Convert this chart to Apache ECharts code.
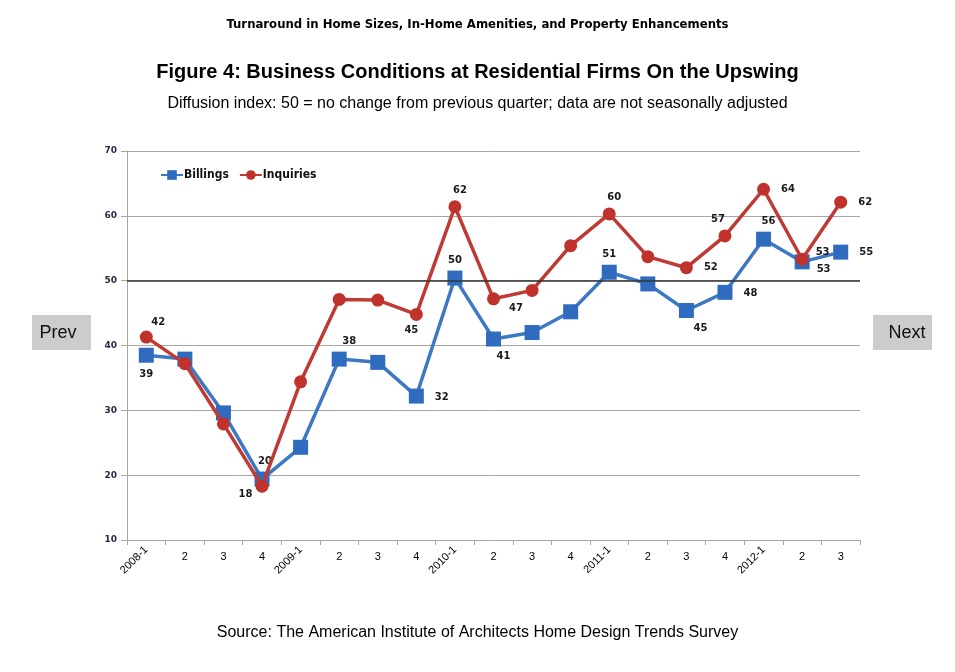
<!DOCTYPE html>
<html>
<head>
<meta charset="utf-8">
<style>
html, body { margin: 0; padding: 0; background: #fff; }
#chart { width: 955px; height: 672px; }
</style>
<script src="https://cdn.jsdelivr.net/npm/echarts@6/dist/echarts.min.js"></script>
</head>
<body>
<div id="chart"></div>
<script>
var quarters = ['2008-1', '2', '3', '4', '2009-1', '2', '3', '4', '2010-1', '2', '3', '4',
    '2011-1', '2', '3', '4', '2012-1', '2', '3'];
var billings = [38.5, 37.9, 29.6, 19.4, 24.3, 37.9, 37.4, 32.2, 50.4, 41.0, 42.0, 45.2,
    51.3, 49.5, 45.4, 48.2, 56.4, 52.9, 54.4];
var inquiries = [41.3, 37.2, 27.9, 18.3, 34.4, 47.1, 47.0, 44.8, 61.4, 47.2, 48.5, 55.4,
    60.3, 53.7, 52.0, 56.9, 64.1, 53.3, 62.1];
var billingsLabels = ['39', null, null, '20', null, '38', null, '32', '50', '41', null, null,
    '51', null, '45', '48', '56', '53', '55'];
var inquiriesLabels = ['42', null, null, '18', null, null, null, '45', '62', '47', null, null,
    '60', null, '52', '57', '64', '53', '62'];
var yTicks = [10, 20, 30, 40, 50, 60, 70];

// where each point label sits (position, offset)
var billingsPos = {
    0: ['bottom', [0, 2]], 3: ['top', [3, 0]], 5: ['top', [10, 0]], 7: ['right', [6, 1]],
    8: ['top', [0, 0]], 9: ['bottom', [10, 0]], 12: ['top', [0, 0]], 14: ['bottom', [14, 0]],
    15: ['right', [6, 1]], 16: ['top', [5, 0]], 17: ['right', [2, 8]], 18: ['right', [6, 0]]
};
var inquiriesPos = {
    0: ['top', [12, 2]], 3: ['left', [2, 8]], 7: ['bottom', [-5, 0]], 8: ['top', [5, 0]],
    9: ['right', [4, 10]], 12: ['top', [5, 0]], 14: ['right', [6, 0]], 15: ['top', [-7, 0]],
    16: ['right', [6, 0]], 17: ['right', [2, -7]], 18: ['right', [6, 0]]
};

function buildData(values, labels, pos) {
    return values.map(function (v, i) {
        var item = { value: v };
        if (labels[i] !== null) {
            item.label = {
                show: true,
                formatter: labels[i],
                position: pos[i][0],
                offset: pos[i][1]
            };
        }
        return item;
    });
}

var dom = document.getElementById('chart');
var myChart = echarts.init(dom);

var labelFont = {
    fontFamily: 'DejaVu Sans',
    fontWeight: 'bold',
    fontSize: 10,
    color: '#1a1a1a'
};

var option = {
    backgroundColor: '#ffffff',
    animation: false,
    title: [
        {
            text: 'Turnaround in Home Sizes, In-Home Amenities, and Property Enhancements',
            left: 'center', top: 13,
            textStyle: { fontFamily: 'DejaVu Sans Condensed', fontWeight: 'bold', fontSize: 13, color: '#000' }
        },
        {
            text: 'Figure 4: Business Conditions at Residential Firms On the Upswing',
            left: 'center', top: 57,
            textStyle: { fontFamily: 'Liberation Sans', fontWeight: 'bold', fontSize: 20, color: '#000' }
        },
        {
            text: 'Diffusion index: 50 = no change from previous quarter; data are not seasonally adjusted',
            left: 'center', top: 91,
            textStyle: { fontFamily: 'Liberation Sans', fontWeight: 'normal', fontSize: 16, color: '#000' }
        },
        {
            text: 'Source: The American Institute of Architects Home Design Trends Survey',
            left: 'center', top: 620,
            textStyle: { fontFamily: 'Liberation Sans', fontWeight: 'normal', fontSize: 16, color: '#000' }
        }
    ],
    legend: {
        left: 155, top: 164,
        itemGap: 10,
        itemWidth: 22, itemHeight: 12,
        textStyle: { fontFamily: 'DejaVu Sans Condensed', fontWeight: 'bold', fontSize: 12, color: '#111', padding: [0, 0, 0, -4] },
        data: ['Billings', 'Inquiries']
    },
    grid: { left: 127, right: 95, top: 151, bottom: 132 },
    xAxis: [
        {
            type: 'category',
            data: quarters,
            boundaryGap: true,
            axisLine: { lineStyle: { color: '#a6a6a6', width: 1 } },
            axisTick: { show: true, length: 5, lineStyle: { color: '#a6a6a6' } },
            axisLabel: {
                interval: 0, margin: 11,
                fontFamily: 'Liberation Sans', fontSize: 11, color: '#000',
                formatter: function (v) { return v.indexOf('-') >= 0 ? '' : v; }
            }
        },
        {
            type: 'category',
            data: quarters,
            position: 'bottom',
            boundaryGap: true,
            axisLine: { show: false },
            axisTick: { show: false },
            axisLabel: {
                interval: 0, rotate: 45, margin: 8,
                fontFamily: 'Liberation Sans', fontSize: 11, color: '#000',
                formatter: function (v) { return v.indexOf('-') >= 0 ? v : ''; }
            }
        }
    ],
    yAxis: {
        type: 'value',
        min: yTicks[0], max: yTicks[yTicks.length - 1], interval: 10,
        axisLine: { show: true, lineStyle: { color: '#a6a6a6' } },
        axisTick: { show: true, length: 6, lineStyle: { color: '#a6a6a6' } },
        axisLabel: {
            margin: 10,
            fontFamily: 'DejaVu Sans', fontWeight: 'bold', fontSize: 9, color: '#1f2a44'
        },
        splitLine: { lineStyle: { color: '#a6a6a6', width: 1 } }
    },
    series: [
        {
            name: 'Billings',
            type: 'line',
            data: buildData(billings, billingsLabels, billingsPos),
            symbol: 'rect',
            symbolSize: 15,
            color: '#3d78c4',
            lineStyle: { color: '#3d78c4', width: 3.5 },
            itemStyle: { color: '#2f6cc0' },
            label: labelFont,
            z: 3,
            markLine: {
                silent: true,
                symbol: 'none',
                label: { show: false },
                lineStyle: { color: '#333333', width: 1.6, type: 'solid' },
                data: [{ yAxis: 50 }]
            }
        },
        {
            name: 'Inquiries',
            type: 'line',
            data: buildData(inquiries, inquiriesLabels, inquiriesPos),
            symbol: 'circle',
            symbolSize: 13,
            color: '#c03a34',
            lineStyle: { color: '#c03a34', width: 3.5 },
            itemStyle: { color: '#c0332d' },
            label: labelFont,
            z: 4
        }
    ],
    graphic: [
        {
            type: 'group', left: 32, top: 315,
            children: [
                { type: 'rect', shape: { x: 0, y: 0, width: 59, height: 35 }, style: { fill: '#cccccc' } },
                { type: 'text', x: 26, y: 18, style: { text: 'Prev', fill: '#111', font: '18px Liberation Sans', align: 'center', verticalAlign: 'middle' } }
            ]
        },
        {
            type: 'group', left: 873, top: 315,
            children: [
                { type: 'rect', shape: { x: 0, y: 0, width: 59, height: 35 }, style: { fill: '#cccccc' } },
                { type: 'text', x: 34, y: 18, style: { text: 'Next', fill: '#111', font: '18px Liberation Sans', align: 'center', verticalAlign: 'middle' } }
            ]
        }
    ]
};

if (option && typeof option === 'object') {
    myChart.setOption(option, true);
    window.onresize = function () {
        myChart.resize();
    };
}
</script>
</body>
</html>
